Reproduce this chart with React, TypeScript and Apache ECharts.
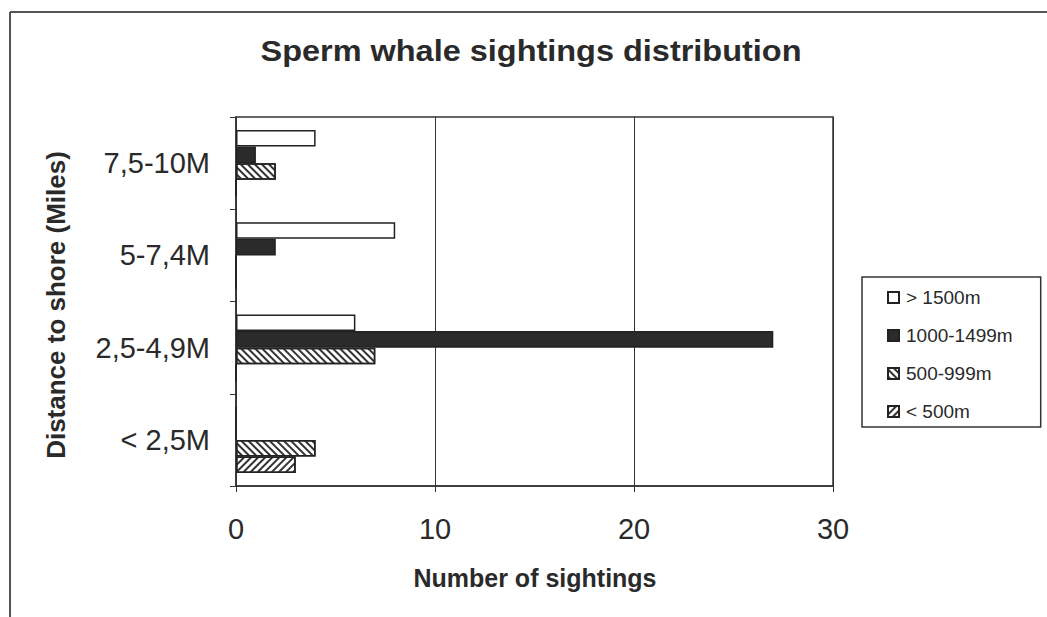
import React, { useEffect, useRef } from "react";
import * as echarts from "echarts";

const categories = ["< 2,5M", "2,5-4,9M", "5-7,4M", "7,5-10M"];
const seriesNames = ["> 1500m", "1000-1499m", "500-999m", "< 500m"];
const over1500 = [0, 6, 8, 4];
const from1000to1499 = [0, 27, 2, 1];
const from500to999 = [4, 7, 0, 2];
const under500 = [3, 0, 0, 0];
const xMin = 0;
const xMax = 30;
const xStep = 10;

const titleText = "Sperm whale sightings distribution";
const xName = "Number of sightings";
const yName = "Distance to shore (Miles)";

const FONT = '"Liberation Sans", Arial, sans-serif';
const INK = "#2a2a2a";

const hatch = (rot: number) => ({
  symbol: "rect",
  symbolSize: 1,
  color: "#333",
  backgroundColor: "#fff",
  dashArrayX: [1, 0],
  dashArrayY: [2, 2.5],
  rotation: rot,
});

export default function App() {
  const ref = useRef<HTMLDivElement>(null);
  useEffect(() => {
    if (!ref.current) return;
    const chart = echarts.init(ref.current, undefined, { renderer: "svg" });
    const values = [over1500, from1000to1499, from500to999, under500];
    const fills = ["#ffffff", "#2b2b2b", "#ffffff", "#ffffff"];
    const decals: any[] = [undefined, undefined, hatch(Math.PI / 4), hatch(-Math.PI / 4)];
    chart.setOption({
      animation: false,
      backgroundColor: "#fff",
      textStyle: { fontFamily: FONT, color: INK },
      grid: {
        left: 236,
        top: 117,
        width: 597,
        height: 369,
        show: true,
        borderColor: "#333",
        borderWidth: 1.5,
        backgroundColor: "transparent",
      },
      legend: {
        data: seriesNames,
        orient: "vertical",
        left: 862,
        top: 277,
        padding: [11, 28, 6, 25],
        itemGap: 19,
        itemWidth: 11,
        itemHeight: 11,
        borderColor: "#333",
        borderWidth: 1.5,
        icon: "rect",
        textStyle: { fontFamily: FONT, fontSize: 19, color: INK, padding: [0, 0, 0, 2] },
      },
      xAxis: {
        type: "value",
        min: xMin,
        max: xMax,
        interval: xStep,
        axisLine: { show: true, lineStyle: { color: "#333", width: 1.5 } },
        axisTick: { show: true, length: 6, lineStyle: { color: "#333" } },
        splitLine: { show: true, lineStyle: { color: "#333", width: 1 } },
        axisLabel: { fontFamily: FONT, fontSize: 29, color: INK, margin: 28 },
      },
      yAxis: {
        type: "category",
        data: categories,
        axisLine: { show: true, lineStyle: { color: "#333", width: 1.5 } },
        axisTick: { show: true, length: 6, interval: 0, lineStyle: { color: "#333" } },
        axisLabel: { fontFamily: FONT, fontSize: 29, color: INK, margin: 26, interval: 0 },
      },
      series: seriesNames.map((name, i) => ({
        name,
        type: "bar",
        data: values[i],
        barGap: "0%",
        barCategoryGap: "28%",
        itemStyle: {
          color: fills[i],
          borderColor: "#222",
          borderWidth: 1.5,
          ...(decals[i] ? { decal: decals[i] } : {}),
        },
      })),
      graphic: [
        {
          type: "line",
          shape: { x1: 10, y1: 12, x2: 1047, y2: 12 },
          style: { stroke: "#555", lineWidth: 2 },
        },
        {
          type: "line",
          shape: { x1: 10, y1: 12, x2: 10, y2: 617 },
          style: { stroke: "#555", lineWidth: 2 },
        },
        {
          type: "text",
          x: 531,
          y: 51,
          scaleX: 1.12,
          style: {
            text: titleText,
            align: "center",
            verticalAlign: "middle",
            font: `bold 29px ${FONT}`,
            fill: INK,
          },
        },
        {
          type: "text",
          x: 535,
          y: 578,
          style: {
            text: xName,
            align: "center",
            verticalAlign: "middle",
            font: `bold 25px ${FONT}`,
            fill: INK,
          },
        },
        {
          type: "text",
          x: 56,
          y: 305,
          rotation: Math.PI / 2,
          style: {
            text: yName,
            align: "center",
            verticalAlign: "middle",
            font: `bold 26px ${FONT}`,
            fill: INK,
          },
        },
      ],
    });
    return () => chart.dispose();
  }, []);
  return (
    <div
      ref={ref}
      style={{ position: "fixed", left: 0, top: 0, width: 1047, height: 617, background: "#fff" }}
    />
  );
}
